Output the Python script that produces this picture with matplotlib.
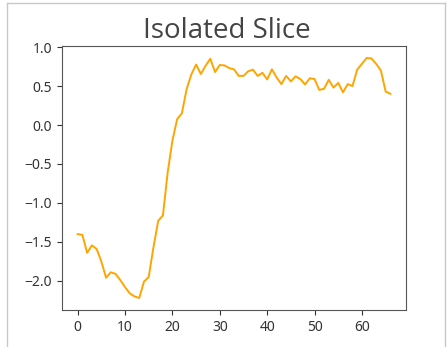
import numpy as np
import matplotlib
matplotlib.use("Agg")
import matplotlib.pyplot as plt
from matplotlib.lines import Line2D

plt.rcParams['font.family'] = ['Noto Sans', 'DejaVu Sans']

# slice values
slice_vals = [-1.40, -1.41, -1.64, -1.545, -1.59, -1.75, -1.96, -1.89, -1.91, -1.99,
              -2.08, -2.16, -2.20, -2.22, -2.01, -1.95, -1.57, -1.23, -1.16, -0.61,
              -0.20, 0.075, 0.15, 0.46, 0.65, 0.776, 0.655, 0.76, 0.85, 0.68,
              0.77, 0.765, 0.73, 0.715, 0.63, 0.63, 0.69, 0.71, 0.63, 0.67,
              0.585, 0.715, 0.61, 0.525, 0.63, 0.56, 0.625, 0.59, 0.52, 0.60,
              0.59, 0.45, 0.465, 0.58, 0.48, 0.54, 0.42, 0.525, 0.50, 0.71,
              0.785, 0.86, 0.855, 0.785, 0.70, 0.43, 0.40]
idx = np.arange(len(slice_vals))

fig = plt.figure(figsize=(4.47, 3.47), dpi=100)
ax = fig.add_axes([62/447, 1 - 310/347, 344/447, 264/347])
ax.plot(idx, slice_vals, color='orange', linewidth=1.4)
ax.set_title('Isolated Slice', fontsize=20, color='#444444', x=0.48,
             family=['Open Sans', 'DejaVu Sans'], fontweight='medium')
ax.tick_params(colors='#333333', labelsize=10)
for s in ax.spines.values():
    s.set_color('#555555')

# screenshot frame
fig.add_artist(Line2D([7/447, 7/447], [0, 1 - 3/347], color='#c8c8c8', lw=1))
fig.add_artist(Line2D([7/447, 445/447], [1 - 3/347, 1 - 3/347], color='#c8c8c8', lw=1))
fig.add_artist(Line2D([445/447, 445/447], [0, 1 - 3/347], color='#c8c8c8', lw=1))

fig.savefig('out.png', dpi=100)
